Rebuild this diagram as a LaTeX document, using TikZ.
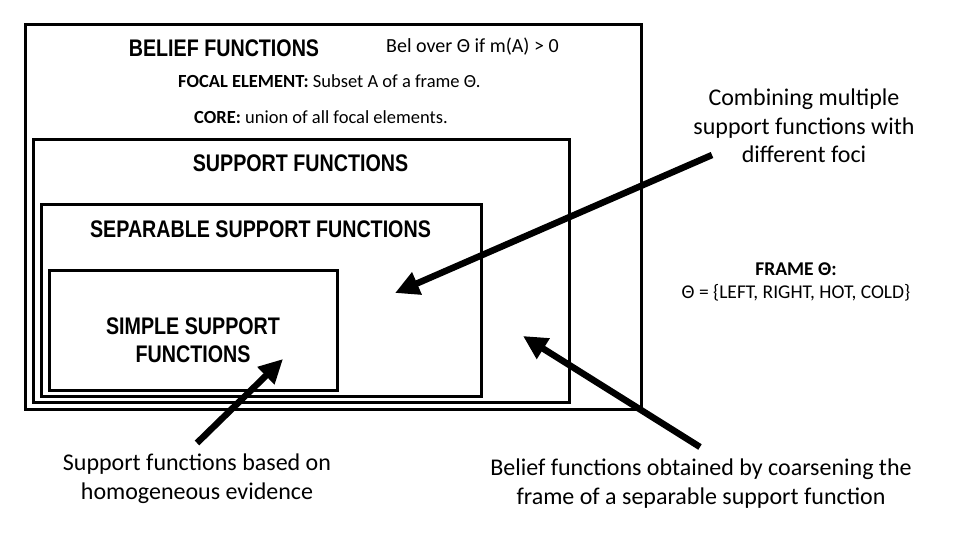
\documentclass[tikz,border=0pt]{standalone}
\usepackage{fontspec}
\setmainfont{Carlito}
\newfontfamily\headfont[FakeStretch=0.82]{Liberation Sans}
\usetikzlibrary{arrows.meta}
\begin{document}
\begin{tikzpicture}[x=1pt,y=-1pt,
  boxframe/.style={draw=black,line width=2.6pt,inner sep=0pt,anchor=north west},
  heading/.style={font=\headfont\bfseries\fontsize{24}{28}\selectfont,inner sep=0pt,anchor=base,align=center},
  bodytext/.style={font=\fontsize{18.5}{22}\selectfont,inner sep=0pt,anchor=base west},
  note/.style={font=\fontsize{24}{28.5}\selectfont,inner sep=0pt,align=center,anchor=base},
  bigarrow/.style={line width=6.5pt,-{Triangle[length=24pt,width=23pt]}}
]
\useasboundingbox (0,0) rectangle (960,540);
\fill[white] (0,0) rectangle (960,540);

% nested boxes
\node[boxframe,minimum width=616pt,minimum height=385pt] (belief) at (24,23) {};
\node[boxframe,minimum width=536pt,minimum height=263pt] (support) at (32,138) {};
\node[boxframe,minimum width=440pt,minimum height=192pt] (separable) at (40,203) {};
\node[boxframe,minimum width=288pt,minimum height=120pt] (simple) at (48,269) {};

% headings (multi-line nodes: base = last line's baseline)
\node[heading] (beliefT) at (224,57) {BELIEF FUNCTIONS};
\node[heading] (supportT) at (300.5,171.5) {SUPPORT FUNCTIONS};
\node[heading] (separableT) at (260.5,237.5) {SEPARABLE SUPPORT FUNCTIONS};
\node[heading] (simpleT) at (193,362.5) {SIMPLE SUPPORT\\FUNCTIONS};

% definitions
\node[bodytext,font=\fontsize{20}{24}\selectfont] (bel) at (386,53) {Bel over Θ if m(A) > 0};
\node[bodytext] (focal) at (178,88) {\textbf{FOCAL ELEMENT:} Subset A of a frame Θ.};
\node[bodytext] (core) at (194,124) {\textbf{CORE:} union of all focal elements.};
\node[font=\fontsize{19.5}{23}\selectfont,inner sep=0pt,align=center,anchor=base] (frame) at (796,298)
  {\textbf{FRAME Θ:}\\Θ = \{LEFT, RIGHT, HOT, COLD\}};

% notes
\node[note] (combN) at (804,163) {Combining multiple\\support functions with\\different foci};
\node[note] (homN) at (197,499) {Support functions based on\\homogeneous evidence};
\node[note] (coarseN) at (701,504) {Belief functions obtained by coarsening the\\frame of a separable support function};

% arrows
\coordinate (t1) at (712,155);
\coordinate (h1) at (395,293);
\coordinate (t2) at (700,447);
\coordinate (h2) at (523,336);
\coordinate (t3) at (197,443);
\coordinate (h3) at (283,359);
\draw[bigarrow] (t1) -- (h1);
\draw[bigarrow] (t2) -- (h2);
\draw[bigarrow] (t3) -- (h3);
\end{tikzpicture}
\end{document}
